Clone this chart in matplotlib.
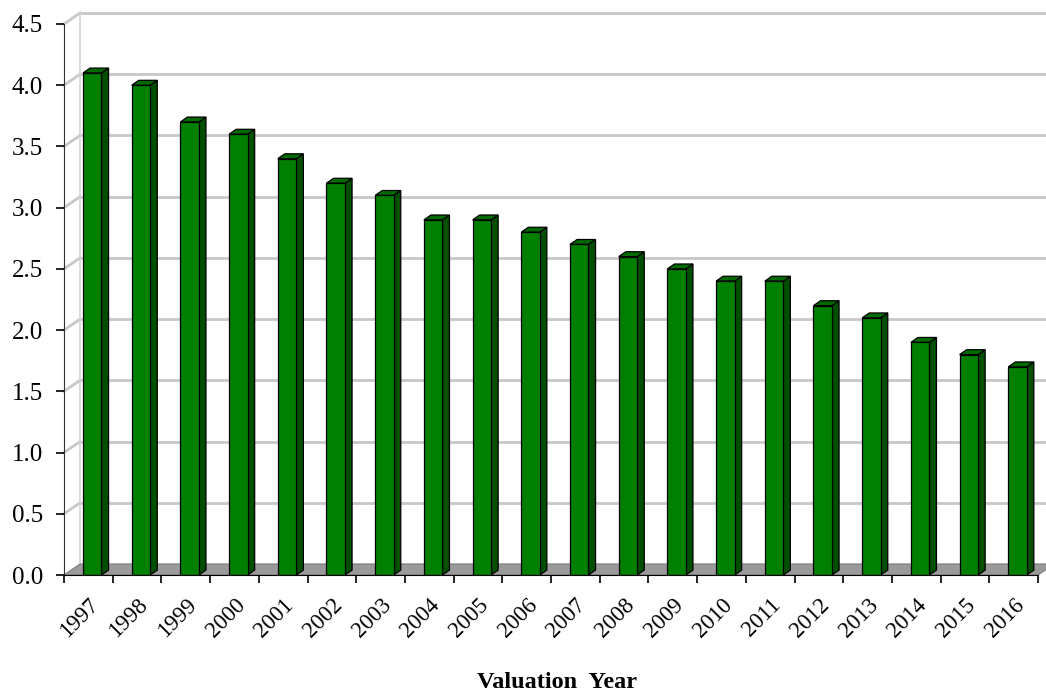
import numpy as np
import matplotlib.pyplot as plt
from matplotlib.patches import Polygon, Rectangle

# data
years = ['1997', '1998', '1999', '2000', '2001', '2002', '2003', '2004', '2005', '2006',
         '2007', '2008', '2009', '2010', '2011', '2012', '2013', '2014', '2015', '2016']
values = [4.1, 4.0, 3.7, 3.6, 3.4, 3.2, 3.1, 2.9, 2.9, 2.8,
          2.7, 2.6, 2.5, 2.4, 2.4, 2.2, 2.1, 1.9, 1.8, 1.7]
y_ticks = [0.0, 0.5, 1.0, 1.5, 2.0, 2.5, 3.0, 3.5, 4.0, 4.5]

plt.rcParams['font.family'] = ['Liberation Serif', 'DejaVu Serif']

fig = plt.figure(figsize=(10.46, 6.98), dpi=100)
ax = fig.add_axes([64 / 1046, 1 - 575 / 698, 974 / 1046, 551 / 698])

n = len(years)
ax.set_xlim(0, n)
ax.set_ylim(0, 4.5)

# 3d depth offsets (data units)
wall_dx, wall_dy = 0.33, 0.09
bar_dx, bar_dy = 0.145, 0.04
bar_left, bar_right = 0.39, 0.77

# floor
floor = Polygon([(0, 0), (n, 0), (n + wall_dx, wall_dy), (wall_dx, wall_dy)],
                closed=True, facecolor='#9a9a9a', edgecolor='#7a7a7a', lw=0.8,
                clip_on=False, zorder=1)
ax.add_patch(floor)

# back-wall gridlines
for t in y_ticks[1:]:
    ax.plot([0, wall_dx], [t, t + wall_dy], color='#c8c8c8', lw=2, clip_on=False, zorder=0.5)
    ax.plot([wall_dx, n + 0.4], [t + wall_dy, t + wall_dy], color='#c8c8c8', lw=2,
            clip_on=False, zorder=0.5)
ax.plot([wall_dx, wall_dx], [wall_dy, 4.5 + wall_dy], color='#d4d4d4', lw=1.2,
        clip_on=False, zorder=0.5)

# bars
for i, v in enumerate(values):
    x0, x1 = i + bar_left, i + bar_right
    side = Polygon([(x1, 0), (x1 + bar_dx, bar_dy), (x1 + bar_dx, v + bar_dy), (x1, v)],
                   closed=True, facecolor='#004f00', edgecolor='black', lw=0.9, zorder=3)
    top = Polygon([(x0, v), (x0 + bar_dx, v + bar_dy), (x1 + bar_dx, v + bar_dy), (x1, v)],
                  closed=True, facecolor='#006a00', edgecolor='black', lw=0.9, zorder=3)
    front = Rectangle((x0, 0), x1 - x0, v, facecolor='#007f00', edgecolor='black',
                      lw=0.9, zorder=4)
    ax.add_patch(side)
    ax.add_patch(top)
    ax.add_patch(front)

for s in ['top', 'right']:
    ax.spines[s].set_visible(False)
ax.spines['left'].set_color('#333333')
ax.spines['bottom'].set_color('black')
ax.spines['left'].set_zorder(5)
ax.spines['bottom'].set_zorder(5)

ax.set_yticks(y_ticks)
ax.set_yticklabels([f'{t:.1f}' for t in y_ticks], fontsize=18)
ax.tick_params(axis='y', length=6, width=1.2, pad=9)

ax.set_xticks(np.arange(n + 1), minor=True)
ax.set_xticks(np.arange(n) + 0.5)
ax.set_xticklabels(years, rotation=45, ha='right', rotation_mode='anchor', fontsize=16.5)
ax.tick_params(axis='x', which='major', length=0, pad=14)
ax.tick_params(axis='x', which='minor', length=6, width=1.2)

ax.set_xlabel('Valuation  Year', fontsize=17.5, fontweight='bold', va='center')
ax.xaxis.set_label_coords((557 - 64) / 974, (575 - 683) / 551)

fig.savefig('out.png', dpi=100)
